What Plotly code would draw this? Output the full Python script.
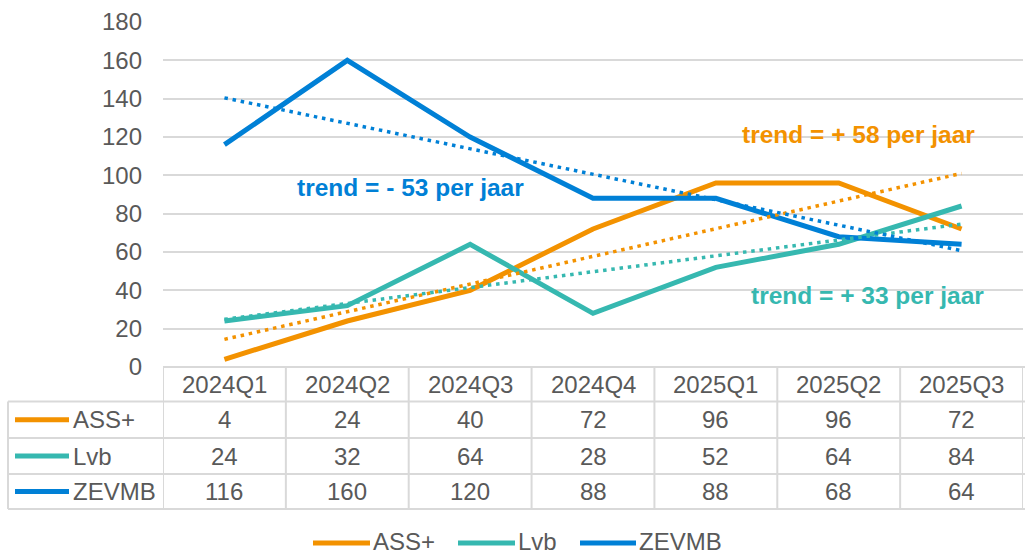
import numpy as np
import plotly.graph_objects as go

categories = ["2024Q1", "2024Q2", "2024Q3", "2024Q4", "2025Q1", "2025Q2", "2025Q3"]
series_names = ["ASS+", "Lvb", "ZEVMB"]
ass_values = [4, 24, 40, 72, 96, 96, 72]
lvb_values = [24, 32, 64, 28, 52, 64, 84]
zevmb_values = [116, 160, 120, 88, 88, 68, 64]
y_ticks = [0, 20, 40, 60, 80, 100, 120, 140, 160, 180]

series_values = [ass_values, lvb_values, zevmb_values]
colors = ["#F39200", "#36B8B0", "#0080D6"]
trend_labels = ["trend = + 58 per jaar", "trend = + 33 per jaar", "trend = - 53 per jaar"]

W, H = 1025, 556
L, R, T, B = 163, 1023, 22, 367
PW, PH = R - L, B - T
TXT = "#595959"
GRID = "#D9D9D9"
FONT = "Liberation Sans, Arial, sans-serif"


def px(xp):
    return (xp - L) / PW


def py(yp):
    return (B - yp) / PH


xs = list(range(len(categories)))
fig = go.Figure()

for name, vals, col in zip(series_names, series_values, colors):
    fig.add_trace(go.Scatter(x=xs, y=vals, mode="lines", name=name,
                             line=dict(color=col, width=5), showlegend=False,
                             hoverinfo="x+y+name"))

for name, vals, col in zip(series_names, series_values, colors):
    k, b0 = np.polyfit(xs, vals, 1)
    tx = [xs[0], xs[-1]]
    fig.add_trace(go.Scatter(x=tx, y=[b0 + k * t for t in tx], mode="lines",
                             name=name + " trend", showlegend=False,
                             line=dict(color=col, width=3.5, dash="3.5px,4.8px")))

shapes = []
ann = []
line_style = dict(color=GRID, width=2)
row_y = [401.5, 438, 474, 509]
shapes.append(dict(type="line", xref="paper", yref="paper", x0=px(L), x1=px(R + 2),
                   y0=py(367), y1=py(367), line=line_style))
for yy in row_y:
    shapes.append(dict(type="line", xref="paper", yref="paper", x0=px(8), x1=px(R + 2),
                       y0=py(yy), y1=py(yy), line=line_style))
shapes.append(dict(type="line", xref="paper", yref="paper", x0=px(8), x1=px(8),
                   y0=py(401.5), y1=py(509), line=line_style))
for k in range(len(categories) + 1):
    shapes.append(dict(type="line", xref="x", yref="paper", x0=k - 0.5, x1=k - 0.5,
                       y0=py(367), y1=py(509), line=line_style))

fs = 24


def text(t, x, y, xref="paper", xanchor="center", size=fs, color=TXT):
    return dict(text=t, xref=xref, yref="paper", x=x, y=y, showarrow=False,
                xanchor=xanchor, yanchor="middle",
                font=dict(size=size, color=color, family=FONT))


for i, c in enumerate(categories):
    ann.append(text(c, i, py(384.5), xref="x"))
for r, (name, vals, col) in enumerate(zip(series_names, series_values, colors)):
    yc = (row_y[r] + row_y[r + 1]) / 2
    shapes.append(dict(type="line", xref="paper", yref="paper", x0=px(15), x1=px(69),
                       y0=py(yc), y1=py(yc), line=dict(color=col, width=5)))
    ann.append(text(name, px(71), py(yc), xanchor="left"))
    for i, v in enumerate(vals):
        ann.append(text(str(v), i, py(yc), xref="x"))

leg = [(313, 370, 371), (458, 515, 516), (580, 636, 637)]
for (x0, x1, xt), name, col in zip(leg, series_names, colors):
    shapes.append(dict(type="line", xref="paper", yref="paper", x0=px(x0), x1=px(x1),
                       y0=py(543), y1=py(543), line=dict(color=col, width=5)))
    ann.append(text(name, px(xt), py(541), xanchor="left"))

trend_pos = [(858, 134), (867, 295), (410, 187)]
for (xc, yc), lab, col in zip(trend_pos, trend_labels, colors):
    ann.append(text("<b>" + lab + "</b>", px(xc), py(yc), size=24.5, color=col))

fig.update_layout(
    width=W, height=H,
    margin=dict(l=L, r=W - R, t=T, b=H - B),
    paper_bgcolor="white", plot_bgcolor="white",
    showlegend=False,
    xaxis=dict(range=[-0.5, len(categories) - 0.5], showgrid=False, zeroline=False,
               showticklabels=False, showline=False, fixedrange=True),
    yaxis=dict(range=[0, 180], tickvals=y_ticks, showgrid=True, gridcolor=GRID,
               gridwidth=1.5, zeroline=False, showline=False, ticks="",
               ticklabelstandoff=20,
               tickfont=dict(size=fs, color=TXT, family=FONT)),
    shapes=shapes, annotations=ann,
)

fig.write_html("out.html", config={"displayModeBar": False},
               post_script="document.body.style.margin='0';document.body.style.padding='0';")
